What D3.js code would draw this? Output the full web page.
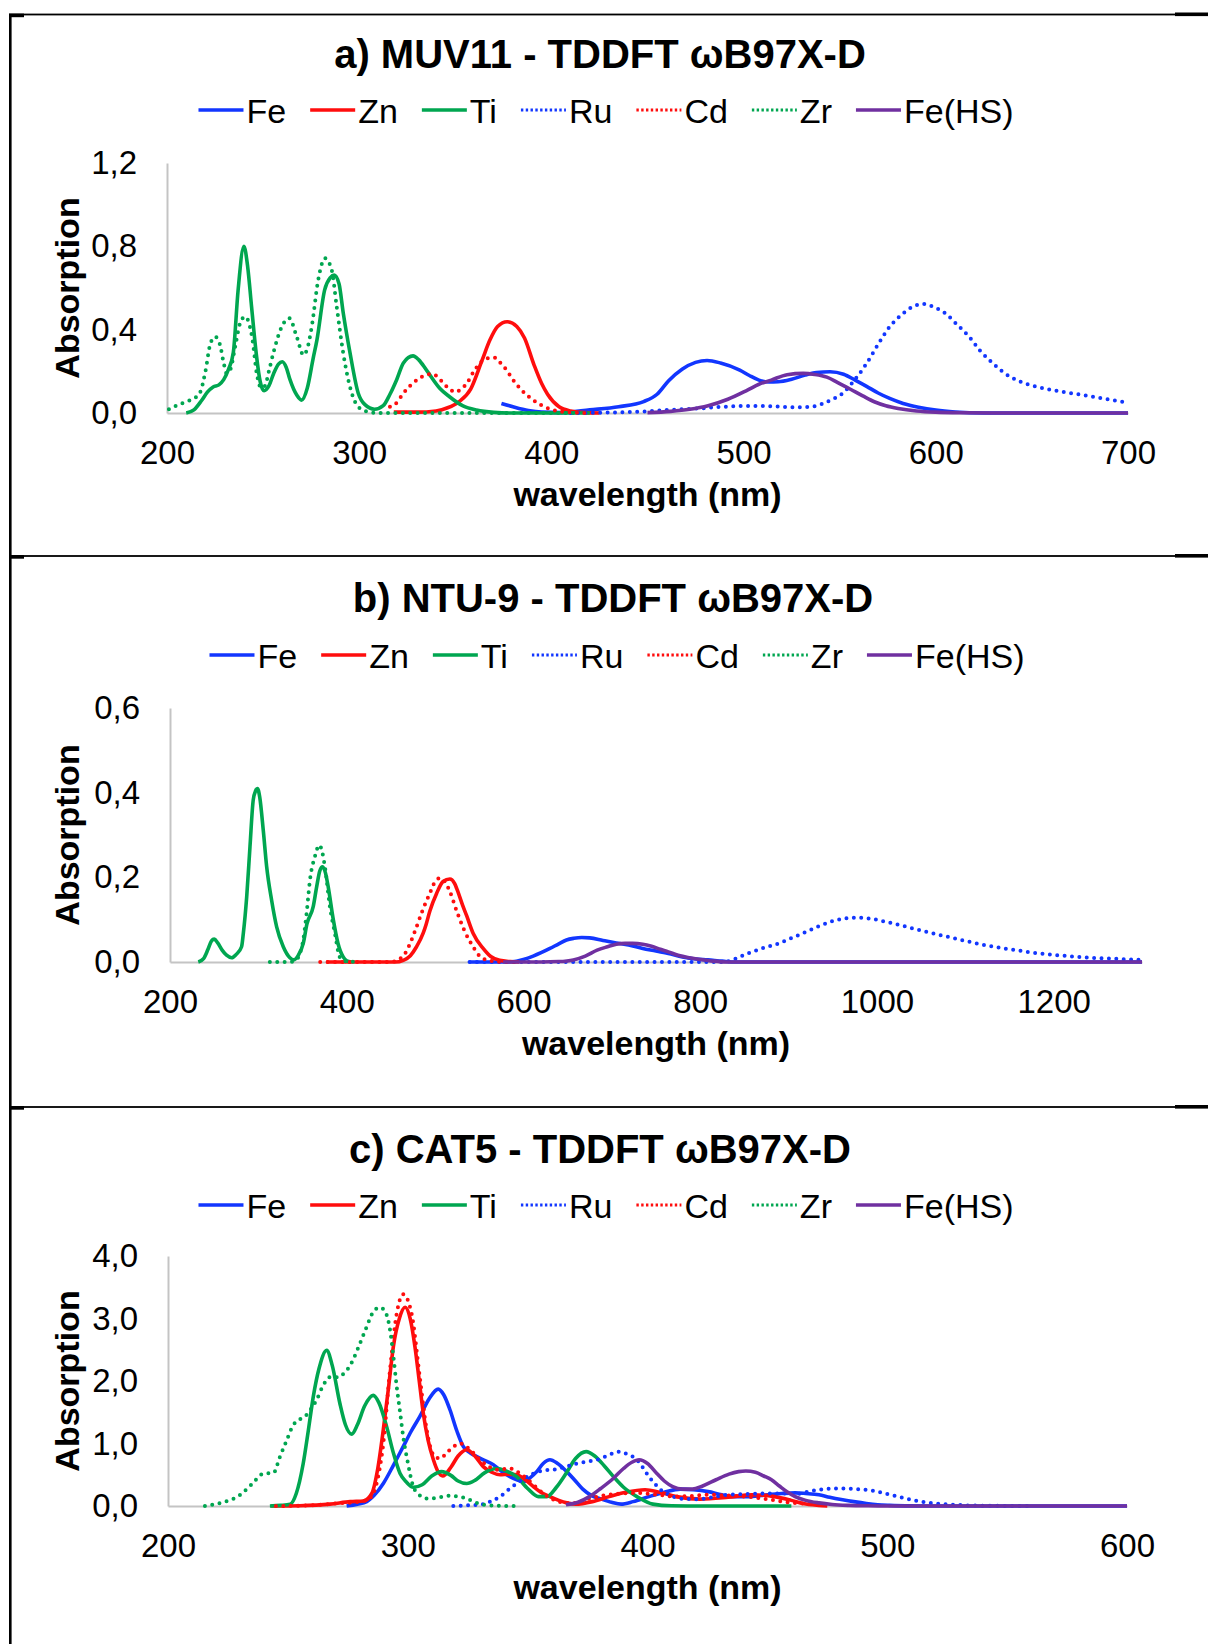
<!DOCTYPE html>
<html><head><meta charset="utf-8">
<script src="https://cdn.jsdelivr.net/npm/d3@7"></script>
<style>
html,body{margin:0;padding:0;background:#fff;}
svg{display:block;font-family:"Liberation Sans",Arial,Helvetica,sans-serif;}
</style></head><body>
<svg id="fig" width="1208" height="1644"></svg>
<script>
// ---- series and tick labels ----
const seriesNames = ["Fe", "Zn", "Ti", "Ru", "Cd", "Zr", "Fe(HS)"];

const titleA = "a) MUV11 - TDDFT \u03c9B97X-D";
const titleB = "b) NTU-9 - TDDFT \u03c9B97X-D";
const titleC = "c) CAT5 - TDDFT \u03c9B97X-D";

const xTicksA = [200, 300, 400, 500, 600, 700];
const yTicksA = [0, 0.4, 0.8, 1.2];
const xTicksB = [200, 400, 600, 800, 1000, 1200];
const yTicksB = [0, 0.2, 0.4, 0.6];
const xTicksC = [200, 300, 400, 500, 600];
const yTicksC = [0, 1, 2, 3, 4];

// ---- a) MUV11 spectra: [wavelength nm, absorption] ----
const muvFe = [[374,0.046],[380,0.03],[388,0.012],[395,0.004],[405,0.002],[420,0.015],[435,0.03],[448,0.055],[455,0.09],[461,0.155],[468,0.21],[475,0.243],[481,0.252],[488,0.24],[498,0.206],[503,0.18],[508,0.158],[513,0.149],[518,0.15],[525,0.162],[532,0.182],[538,0.194],[545,0.198],[552,0.186],[558,0.158],[564,0.128],[570,0.096],[576,0.07],[583,0.046],[591,0.028],[600,0.014],[610,0.005],[625,0],[700,0]];
const muvZn = [[318,0.004],[330,0.004],[340,0.01],[346,0.025],[352,0.055],[358,0.115],[364,0.255],[368,0.35],[372,0.415],[377,0.438],[382,0.415],[386,0.36],[391,0.23],[395,0.14],[398,0.09],[404,0.03],[410,0.01],[418,0.002],[425,0]];
const muvTi = [[210,0],[214,0.015],[218,0.06],[221,0.1],[224,0.125],[227,0.135],[229.5,0.16],[232,0.21],[234.5,0.29],[237,0.59],[240,0.8],[242,0.7],[244,0.51],[246.5,0.28],[248.5,0.15],[250.5,0.107],[253,0.13],[255.5,0.19],[258,0.235],[260,0.246],[262,0.22],[264,0.16],[267.5,0.086],[270,0.062],[273,0.12],[276,0.26],[278,0.35],[282,0.59],[285,0.65],[287,0.662],[289.5,0.62],[291.7,0.48],[295.2,0.29],[299.5,0.095],[303,0.04],[308,0.018],[312.5,0.035],[316,0.09],[319.5,0.16],[323,0.24],[328,0.274],[331,0.255],[335,0.206],[342,0.118],[347,0.078],[354,0.034],[361,0.014],[370,0.003],[380,0],[420,0]];
const muvRu = [[410,0],[430,0.002],[445,0.006],[460,0.014],[477,0.022],[490,0.03],[502,0.034],[515,0.032],[527,0.028],[535,0.03],[541,0.044],[546,0.065],[551.5,0.094],[557,0.15],[564,0.238],[570,0.33],[576,0.414],[582,0.47],[588,0.51],[593.7,0.523],[599,0.508],[605,0.478],[611,0.425],[617.4,0.366],[623,0.3],[629.8,0.238],[636,0.19],[642,0.158],[650,0.132],[658.5,0.114],[667,0.1],[677,0.086],[688,0.068],[700,0.05]];
const muvCd = [[316,0.03],[319,0.045],[323,0.095],[330,0.158],[334,0.18],[337.7,0.187],[341,0.172],[343.8,0.142],[347,0.115],[350,0.1],[353,0.115],[356,0.142],[359,0.19],[362.9,0.24],[366.5,0.262],[370,0.267],[373,0.245],[376.7,0.206],[380,0.16],[383.7,0.118],[390.6,0.062],[399,0.02],[405,0.007],[412,0.002],[420,0]];
const muvZr = [[201,0.018],[206,0.04],[210,0.054],[214,0.07],[217,0.094],[220,0.2],[222.5,0.33],[225,0.366],[227.5,0.33],[229.5,0.24],[231,0.19],[233,0.21],[235.5,0.32],[238,0.43],[240.6,0.462],[243,0.42],[244.5,0.35],[246.7,0.19],[249,0.12],[251,0.13],[253,0.2],[255.3,0.287],[259.7,0.414],[263.6,0.455],[267.5,0.366],[271,0.278],[273,0.31],[275.3,0.414],[278.7,0.64],[282.2,0.743],[285.7,0.686],[288.3,0.51],[291.7,0.287],[295.2,0.126],[298,0.05],[300.4,0.022],[305,0.005],[310,0],[415,0]];
const muvFeHS = [[450,0.002],[462,0.008],[472,0.018],[481.5,0.035],[491.8,0.066],[502,0.11],[508,0.138],[514.4,0.158],[522.6,0.184],[531,0.19],[537,0.185],[543.3,0.172],[549,0.146],[555.6,0.114],[562,0.082],[568,0.054],[574,0.035],[580.4,0.022],[590,0.01],[600,0.004],[615,0.001],[630,0],[700,0]];

// ---- b) NTU-9 spectra ----
const ntuFe = [[539,0],[580,0],[592,0.002],[600,0.006],[611,0.014],[620,0.022],[630,0.032],[640,0.043],[648.7,0.052],[657,0.056],[666,0.058],[675,0.057],[690,0.051],[705,0.045],[719,0.04],[735,0.032],[750,0.026],[764,0.02],[780,0.012],[795,0.007],[808.6,0.005],[825,0.002],[840,0],[1300,0]];
const ntuZn = [[377,0],[455,0],[464,0.004],[472,0.015],[479,0.036],[486.5,0.068],[490,0.09],[494,0.12],[501.7,0.162],[509,0.19],[516.7,0.196],[522,0.186],[526,0.165],[531,0.135],[535.6,0.11],[543,0.068],[554.4,0.032],[563,0.013],[573,0.004],[585,0.001],[595,0]];
const ntuTi = [[232,0],[238,0.008],[243,0.03],[247,0.05],[250,0.054],[254,0.045],[259,0.028],[264,0.016],[269.8,0.01],[275,0.018],[281,0.036],[283,0.068],[286.8,0.154],[290.5,0.272],[294.2,0.383],[297,0.405],[299,0.41],[301.5,0.39],[305.6,0.31],[309.4,0.225],[315,0.146],[320.7,0.083],[328.2,0.036],[335.7,0.01],[340,0.005],[345,0.015],[350.8,0.044],[355,0.09],[362,0.13],[366,0.178],[369.5,0.215],[372.7,0.225],[376,0.21],[379,0.178],[384.8,0.1],[390,0.045],[396,0.012],[400,0.003],[405,0]];
const ntuRu = [[539,0],[827,0],[840,0.008],[853.5,0.02],[870,0.032],[889,0.044],[905,0.058],[920.6,0.072],[936,0.086],[952,0.098],[965,0.103],[978.7,0.105],[994,0.102],[1010,0.095],[1032,0.084],[1054.7,0.072],[1077,0.061],[1099.5,0.05],[1122,0.04],[1144,0.032],[1167,0.025],[1189,0.019],[1211,0.015],[1233.7,0.011],[1265,0.008],[1300,0.005]];
const ntuCd = [[370,0],[450,0],[458,0.005],[466,0.02],[472,0.045],[479,0.083],[486,0.123],[494,0.162],[500,0.19],[505.4,0.198],[511,0.19],[517,0.165],[524,0.123],[533,0.075],[543,0.036],[550,0.015],[558,0.005],[570,0.001],[590,0]];
const ntuZr = [[313,0],[335,0],[342,0.004],[347,0.02],[351,0.055],[354.6,0.115],[358.4,0.194],[364,0.249],[368.9,0.276],[372,0.262],[375.3,0.225],[381,0.13],[386.6,0.068],[392,0.012],[398,0.002],[415,0]];
const ntuFeHS = [[577,0],[620,0],[640,0.001],[656.5,0.005],[670,0.014],[683.4,0.028],[695,0.036],[705,0.042],[715,0.044],[723.6,0.044],[735,0.042],[745,0.037],[755,0.03],[764,0.024],[775,0.016],[788,0.01],[800,0.006],[815,0.002],[830,0],[1300,0]];

// ---- c) CAT5 spectra ----
const catFe = [[274.5,0],[279,0.03],[282.9,0.07],[286,0.17],[289.8,0.36],[294,0.65],[298.1,0.95],[301.5,1.2],[305,1.43],[309,1.72],[312.7,1.87],[315,1.78],[317.6,1.54],[320.5,1.2],[323.2,0.95],[326,0.85],[328.8,0.79],[332,0.73],[335.7,0.66],[339,0.56],[342.6,0.47],[345.5,0.42],[348.2,0.39],[351,0.45],[353.8,0.55],[356.5,0.68],[359.3,0.74],[362.5,0.68],[366.3,0.55],[369.5,0.42],[373,0.27],[376.5,0.17],[380.8,0.11],[385,0.06],[389,0.03],[394,0.07],[400.6,0.15],[407,0.22],[413.7,0.27],[419,0.26],[425.3,0.23],[431,0.18],[436.8,0.15],[443,0.15],[450,0.18],[456,0.2],[461.6,0.21],[466,0.2],[471.5,0.18],[476,0.14],[481.4,0.1],[486,0.07],[491.3,0.04],[496,0.02],[501,0.01],[510,0.002],[520,0],[600,0]];
const catZn = [[243,0],[255,0.005],[267.6,0.03],[276,0.07],[281.5,0.08],[285,0.2],[287.5,0.6],[289.8,1.22],[292,1.9],[294,2.55],[296.5,3.0],[298.9,3.18],[301,3.0],[303,2.55],[304.8,2.0],[306.5,1.48],[308.5,1.05],[310.7,0.74],[312.5,0.56],[314.6,0.48],[318,0.62],[321,0.8],[324.6,0.9],[328,0.8],[331.5,0.63],[335,0.54],[338.5,0.5],[342,0.51],[345.4,0.5],[349,0.42],[352.4,0.31],[355.5,0.22],[359.3,0.15],[363,0.09],[366.3,0.05],[370,0.03],[377,0.07],[384,0.15],[391,0.22],[399,0.26],[405,0.22],[412,0.15],[422,0.11],[433.6,0.14],[443.5,0.18],[453,0.15],[460,0.09],[465,0.04],[471.5,0.01],[475,0]];
const catTi = [[242.5,0],[247,0.01],[251,0.03],[253.5,0.2],[256.4,0.68],[258.5,1.2],[260.6,1.75],[263,2.2],[266.2,2.49],[268.5,2.25],[271.7,1.64],[274,1.3],[276.6,1.15],[279,1.3],[282,1.6],[285.6,1.77],[288,1.65],[291.2,1.27],[294,0.85],[296.8,0.52],[299.5,0.38],[302.3,0.3],[306,0.34],[310,0.48],[314.1,0.55],[318,0.49],[321,0.4],[324.6,0.36],[328,0.41],[332,0.53],[337.1,0.6],[341,0.56],[345.4,0.47],[350,0.28],[354.5,0.15],[358,0.15],[362,0.3],[366,0.52],[370,0.76],[374.4,0.87],[378,0.8],[382,0.64],[385.8,0.47],[390,0.3],[395.6,0.15],[402.2,0.03],[410,0.003],[420,0],[460,0]];
const catRu = [[319,0],[325,0.01],[331.5,0.03],[335,0.08],[338.5,0.15],[342,0.26],[345.4,0.36],[349,0.45],[352.4,0.52],[357,0.57],[362.1,0.59],[366,0.63],[370.5,0.68],[374.5,0.71],[378.8,0.74],[383,0.8],[388,0.87],[392,0.82],[395.6,0.74],[398,0.62],[400.6,0.47],[403,0.36],[405.5,0.26],[409.5,0.17],[413.7,0.12],[418,0.11],[422,0.11],[427,0.14],[433.6,0.18],[441,0.19],[450,0.2],[456,0.2],[461.6,0.19],[466,0.22],[471.5,0.26],[476,0.275],[481.4,0.28],[487,0.27],[494.5,0.24],[499,0.2],[504.5,0.15],[509,0.11],[514.4,0.07],[519,0.045],[524,0.03],[532,0.012],[540,0.004],[560,0]];
const catCd = [[245,0],[260,0.01],[270,0.04],[280,0.07],[284,0.12],[287,0.36],[289.8,1.0],[292.6,2.18],[295.4,3.08],[298.1,3.39],[301.6,3.08],[305,2.07],[307.9,1.22],[310.7,0.82],[313.4,0.76],[317,0.88],[321.8,1.0],[326,0.9],[330.1,0.74],[333.5,0.64],[337.1,0.58],[342.6,0.6],[346,0.54],[349.6,0.44],[353,0.32],[356.5,0.2],[361,0.1],[366,0.05],[370,0.05],[375.8,0.12],[382,0.17],[389,0.2],[395,0.21],[402,0.19],[412,0.15],[418,0.16],[425,0.18],[433,0.17],[441,0.15],[450,0.11],[458,0.06],[465,0.04],[471.5,0.03],[476,0]];
const catZr = [[215.4,0],[222,0.05],[230,0.176],[235,0.35],[239.8,0.52],[244,0.53],[246.7,0.79],[249.5,1.05],[252.3,1.3],[257.8,1.46],[262,1.7],[265,1.95],[268,2.07],[271,2.06],[274,2.15],[276,2.25],[279,2.5],[282.9,2.87],[285.5,3.1],[288.4,3.18],[290.7,3.1],[292.6,2.82],[294,2.4],[295.4,1.91],[296.8,1.5],[298.1,1.11],[300,0.7],[302.3,0.31],[305,0.17],[307.9,0.12],[312,0.13],[317.6,0.165],[321,0.15],[324.6,0.12],[328,0.06],[331.5,0.02],[338,0.003],[345,0]];
const catFeHS = [[366,0.02],[371,0.06],[375.8,0.15],[380.5,0.28],[385.7,0.44],[390,0.6],[393.5,0.7],[396.5,0.74],[400,0.68],[403.9,0.52],[407,0.4],[410.5,0.31],[414.5,0.27],[418.7,0.27],[423,0.32],[428.6,0.42],[434,0.51],[438,0.55],[441,0.56],[445,0.54],[448.5,0.48],[451.7,0.42],[455,0.32],[458.5,0.22],[461.6,0.15],[466,0.09],[471.5,0.05],[477,0.025],[484,0.01],[492,0.003],[500,0],[600,0]];

// ---- styling of the seven series (same order as seriesNames) ----
const BLUE = "#1236ff", RED = "#ff0d0d", GREEN = "#00a650", PURPLE = "#7030a0";
const seriesStyle = [
  {color: BLUE,   dotted: false},
  {color: RED,    dotted: false},
  {color: GREEN,  dotted: false},
  {color: BLUE,   dotted: true},
  {color: RED,    dotted: true},
  {color: GREEN,  dotted: true},
  {color: PURPLE, dotted: false}
];

// ---- panel layout ----
const panels = [
  {title: titleA, titleX: 600, titleY: 68, legendX: 606, legendY: 110,
   xDomain: [200, 700], xRange: [167, 1128], yDomain: [0, 1.2], yRange: [413, 163],
   xTicks: xTicksA, yTicks: yTicksA, yFmt: ".1f",
   data: [muvFe, muvZn, muvTi, muvRu, muvCd, muvZr, muvFeHS]},
  {title: titleB, titleX: 613, titleY: 612, legendX: 617, legendY: 655,
   xDomain: [200, 1300], xRange: [170, 1142], yDomain: [0, 0.6], yRange: [962, 708],
   xTicks: xTicksB, yTicks: yTicksB, yFmt: ".1f",
   data: [ntuFe, ntuZn, ntuTi, ntuRu, ntuCd, ntuZr, ntuFeHS]},
  {title: titleC, titleX: 600, titleY: 1163, legendX: 606, legendY: 1205,
   xDomain: [200, 600], xRange: [168, 1127], yDomain: [0, 4], yRange: [1506, 1256],
   xTicks: xTicksC, yTicks: yTicksC, yFmt: ".1f",
   data: [catFe, catZn, catTi, catRu, catCd, catZr, catFeHS]}
];

const svg = d3.select("#fig");
svg.append("rect").attr("width", 1208).attr("height", 1644).attr("fill", "#fff");

// page frame: left border plus the horizontal rules between the panels
const frame = svg.append("g").attr("fill", "#000");
frame.append("rect").attr("x", 9).attr("y", 14).attr("width", 2.6).attr("height", 1630);
[14.5, 556, 1107].forEach(y => {
  frame.append("rect").attr("x", 9).attr("y", y - 0.9).attr("width", 1199).attr("height", 1.8);
  frame.append("rect").attr("x", 9).attr("y", y - 0.9).attr("width", 15).attr("height", 3.6);
  frame.append("rect").attr("x", 1175).attr("y", y - 2).attr("width", 33).attr("height", 3.6);
});

const decimalComma = fmt => v => d3.format(fmt)(v).replace(".", ",");

panels.forEach(p => {
  const g = svg.append("g");
  const x = d3.scaleLinear().domain(p.xDomain).range(p.xRange);
  const y = d3.scaleLinear().domain(p.yDomain).range(p.yRange);

  // title
  g.append("text").attr("x", p.titleX).attr("y", p.titleY)
    .attr("text-anchor", "middle").attr("font-size", 40).attr("font-weight", "bold")
    .attr("fill", "#000").text(p.title);

  // legend
  const lg = g.append("g");
  let cx = 0;
  seriesNames.forEach((name, i) => {
    const st = seriesStyle[i];
    const ln = lg.append("line").attr("x1", cx).attr("x2", cx + 45)
      .attr("y1", p.legendY).attr("y2", p.legendY).attr("stroke", st.color);
    if (st.dotted) ln.attr("stroke-width", 2.8).attr("stroke-dasharray", "2.4 2.4");
    else ln.attr("stroke-width", 3.6);
    const t = lg.append("text").attr("x", cx + 48).attr("y", p.legendY + 13)
      .attr("font-size", 34).attr("fill", "#000").text(name);
    cx += 48 + t.node().getComputedTextLength() + 24;
  });
  const legW = cx - 24;
  lg.attr("transform", `translate(${p.legendX - legW / 2},0)`);

  // axes
  const xAxis = d3.axisBottom(x).tickValues(p.xTicks).tickSize(0).tickSizeOuter(0)
    .tickPadding(28).tickFormat(d3.format("d"));
  const yAxis = d3.axisLeft(y).tickValues(p.yTicks).tickSize(0).tickSizeOuter(0)
    .tickPadding(30).tickFormat(decimalComma(p.yFmt));

  const gx = g.append("g").attr("transform", `translate(0,${p.yRange[0]})`).call(xAxis);
  const gy = g.append("g").attr("transform", `translate(${p.xRange[0]},0)`).call(yAxis);
  [gx, gy].forEach(a => {
    a.select(".domain").attr("stroke", "#c4c4c4").attr("stroke-width", 2);
    a.selectAll("text").attr("font-size", 33).attr("fill", "#000")
      .attr("font-family", '"Liberation Sans", Arial, sans-serif');
  });

  // axis titles
  const midX = (p.xRange[0] + p.xRange[1]) / 2;
  g.append("text").attr("x", midX).attr("y", p.yRange[0] + 93)
    .attr("text-anchor", "middle").attr("font-size", 34).attr("font-weight", "bold")
    .attr("fill", "#000").text("wavelength (nm)");
  const midY = (p.yRange[0] + p.yRange[1]) / 2;
  g.append("text").attr("transform", `translate(79,${midY}) rotate(-90)`)
    .attr("text-anchor", "middle").attr("font-size", 34).attr("font-weight", "bold")
    .attr("fill", "#000").text("Absorption");

  // spectra
  const line = d3.line().x(d => x(d[0])).y(d => y(d[1])).curve(d3.curveMonotoneX);
  p.data.forEach((series, i) => {
    const st = seriesStyle[i];
    const path = g.append("path").datum(series).attr("d", line)
      .attr("fill", "none").attr("stroke", st.color).attr("stroke-linejoin", "round");
    if (st.dotted) path.attr("stroke-width", 4).attr("stroke-linecap", "round").attr("stroke-dasharray", "0 7.4");
    else path.attr("stroke-width", 3.6).attr("stroke-linecap", "butt");
  });
});
</script>
</body></html>
